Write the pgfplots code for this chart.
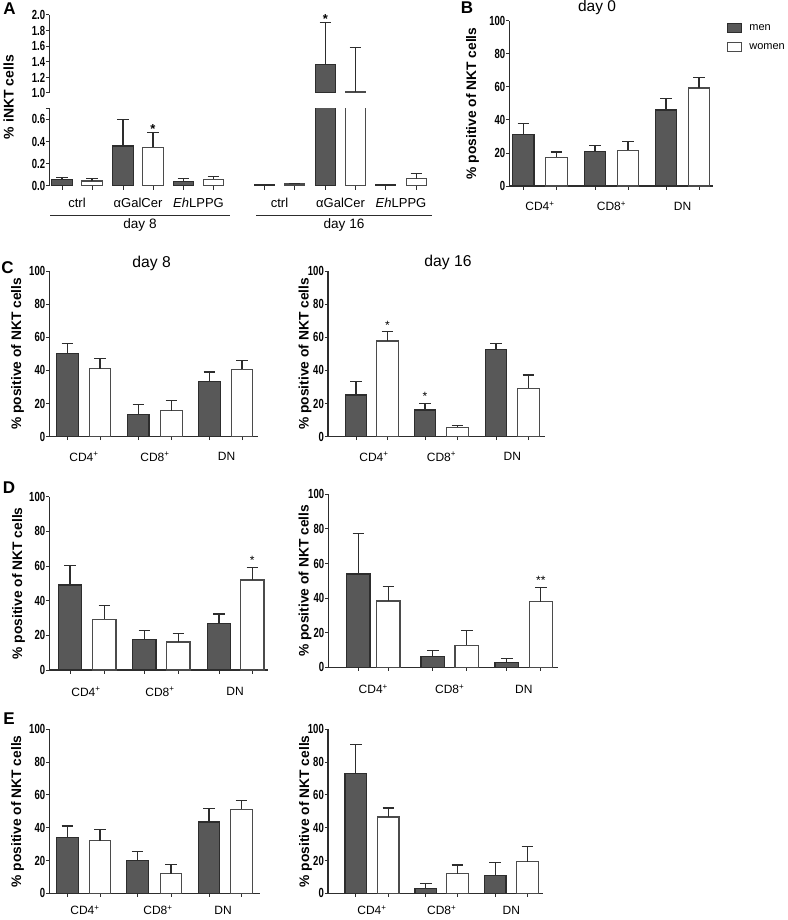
\documentclass[border=0pt]{standalone}
\usepackage{pgfplots}
\pgfplotsset{compat=1.18}
\usepackage{fontspec}
\setmainfont{Liberation Sans}
\newfontfamily\condbold{Liberation Sans Bold}[FakeStretch=0.72]
\newcommand\fs[1]{\fontsize{#1}{#1}\selectfont}
\definecolor{mencol}{RGB}{88,88,88}
\definecolor{edge}{RGB}{45,45,45}
\definecolor{wedge}{RGB}{75,75,75}
\definecolor{axc}{RGB}{45,45,45}
\pgfplotsset{
  gp/.style={
    scale only axis, clip mode=individual, anchor=south west,
    axis x line*=bottom, axis y line*=left,
    axis line style={-, line width=1.3pt, draw=axc},
    tick align=outside, major tick length=3.5pt,
    every tick/.style={line width=1pt, draw=axc},
    enlargelimits=false,
    xticklabels={},
    yticklabel style={font=\condbold\fs{13.2}, inner sep=0.5pt},
    ymin=0,
    extra x tick style={major tick length=0pt, tick label style={anchor=center, font=\fs{12}}},
  },
  pc/.style={ymax=100, ytick={0,20,40,60,80,100}, yticklabels={0,20,40,60,80,100},
    extra x tick labels={CD4\textsuperscript{+},CD8\textsuperscript{+},DN}},
  menbar/.style={ybar, bar shift=0pt, fill=mencol, draw=edge, line width=1.2pt,
    error bars/y dir=plus, error bars/y explicit, error bars/error mark=-,
    error bars/error bar style={line width=1.2pt, draw=edge},
    error bars/error mark options={rotate=90, line width=1.2pt, mark size=5.8pt, draw=edge}},
  womenbar/.style={ybar, bar shift=0pt, fill=white, draw=wedge, line width=1.2pt,
    error bars/y dir=plus, error bars/y explicit, error bars/error mark=-,
    error bars/error bar style={line width=1.2pt, draw=edge},
    error bars/error mark options={rotate=90, line width=1.2pt, mark size=5.8pt, draw=edge}},
  boxlegend/.style={legend image code/.code={\draw[##1] (0pt,-4.5pt) rectangle (14pt,4.5pt);}},
}
\newcommand\sigstar[1]{\node[anchor=base, inner sep=0pt, yshift=2.5pt, font=\fs{12}] at (axis cs:#1) {*};}
\begin{document}
\begin{tikzpicture}
\useasboundingbox (0pt,0pt) rectangle (787pt,-920pt);

% ---------------- A lower ----------------
\begin{axis}[gp, at={(49.3pt,-186pt)}, width=382.7pt, height=77.7pt,
  xmin=49.3, xmax=432, ymax=0.7, bar width=20.7,
  x axis line style={draw=none},
  ytick={0,0.2,0.4,0.6,0.7}, yticklabels={0.0,0.2,0.4,0.6,{}},
  xtick={62,92,123,153,183.5,213.5,264.5,294.5,325.5,355.5,385.5,416.5},
  extra x ticks={77,138,198.5,279.5,340.5,401},
  extra x tick labels={ctrl,αGalCer,\textit{Eh}LPPG,ctrl,αGalCer,\textit{Eh}LPPG},
  extra x tick style={tick label style={yshift=-17pt, font=\fs{13}}}]
\addplot[menbar] coordinates {(62,0.055) +- (0,0.022) (123,0.36) +- (0,0.24) (183.5,0.043) +- (0,0.027)
  (264.5,0.01) +- (0,0.003) (325.5,1.37) +- (0,0.53) (385.5,0.01) +- (0,0.006)};
\addplot[womenbar] coordinates {(92,0.045) +- (0,0.02) (153,0.35) +- (0,0.13) (213.5,0.06) +- (0,0.024)
  (294.5,0.018) +- (0,0.007) (355.5,1.017) +- (0,0.563) (416.5,0.065) +- (0,0.045)};
\node[anchor=base, inner sep=0pt, yshift=-0.5pt, font=\bfseries\fs{13}] at (axis cs:153,0.48) {*};
\end{axis}

% ---------------- A upper (broken axis: only the tall day-16 aGalCer bars reach it) ----------------
\begin{axis}[gp, at={(49.3pt,-93pt)}, width=382.7pt, height=78pt,
  xmin=49.3, xmax=432, ymin=1, ymax=2, bar width=20.7,
  axis x line=none,
  ytick={1,1.2,1.4,1.6,1.8,2}, yticklabels={1.0,1.2,1.4,1.6,1.8,2.0}]
\addplot[menbar] coordinates {(325.5,1.37) +- (0,0.53)};
\addplot[womenbar] coordinates {(355.5,1.017) +- (0,0.563)};
\node[anchor=base, inner sep=0pt, yshift=-0.5pt, font=\bfseries\fs{13}] at (axis cs:325.5,1.90) {*};
\end{axis}

% ---------------- B ----------------
\begin{axis}[gp, pc, at={(509.3pt,-186pt)}, width=203.7pt, height=165pt,
  xmin=509.3, xmax=713, bar width=21.5,
  xtick={523.3,556.5,595,628,666,699},
  extra x ticks={540,611.5,682.5},
  extra x tick style={tick label style={yshift=-20pt}},
  legend style={at={(axis description cs:1,1)}, anchor=north west, xshift=14pt, yshift=-1pt,
    draw=none, fill=none, font=\fs{11}, row sep=8pt, inner sep=0pt,
    /tikz/every odd column/.append style={column sep=5pt}},
  legend cell align=left]
\addplot[menbar, boxlegend] coordinates {(523.3,31.1) +- (0,6.9) (595,20.8) +- (0,3.6) (666,46) +- (0,7)};
\addlegendentry{men}
\addplot[womenbar, boxlegend] coordinates {(556.5,17.4) +- (0,3.2) (628,21.6) +- (0,5.2) (699,59.4) +- (0,6.2)};
\addlegendentry{women}
\end{axis}

% ---------------- C left ----------------
\begin{axis}[gp, pc, at={(49.3pt,-436.7pt)}, width=209pt, height=165.7pt,
  xmin=49.3, xmax=258.3, bar width=21.5,
  xtick={67.5,100,138.3,171.5,209.5,242},
  extra x ticks={84,155,226.5},
  extra x tick style={tick label style={yshift=-20pt}}]
\addplot[menbar] coordinates {(67.5,50) +- (0,6.2) (138.3,13.2) +- (0,6.4) (209.5,33.4) +- (0,5.6)};
\addplot[womenbar] coordinates {(100,41) +- (0,6.4) (171.5,15.8) +- (0,6) (242,40.6) +- (0,5.6)};
\end{axis}

% ---------------- C right ----------------
\begin{axis}[gp, pc, at={(328pt,-436.7pt)}, width=217pt, height=165.7pt,
  xmin=328, xmax=545, bar width=21.5,
  xtick={356,387.5,425,457.5,496,528.5},
  extra x ticks={374,441.5,512.3},
  extra x tick style={tick label style={yshift=-20pt}}]
\addplot[menbar] coordinates {(356,25.2) +- (0,8) (425,16.1) +- (0,4) (496,52.7) +- (0,3.6)};
\addplot[womenbar] coordinates {(387.5,57.8) +- (0,5.6) (457.5,5.6) +- (0,1.4) (528.5,29.2) +- (0,8)};
\sigstar{387.5,63.4}
\sigstar{425,20.1}
\end{axis}

% ---------------- D left ----------------
\begin{axis}[gp, pc, at={(49.3pt,-670pt)}, width=218.7pt, height=173.3pt,
  xmin=49.3, xmax=268, bar width=23.3,
  xtick={70,104.3,144.3,178.3,219,252.3},
  extra x ticks={86,160,235},
  extra x tick style={tick label style={yshift=-21.7pt}}]
\addplot[menbar] coordinates {(70,49) +- (0,11.2) (144.3,17.7) +- (0,5) (219,26.7) +- (0,5.6)};
\addplot[womenbar] coordinates {(104.3,29.2) +- (0,7.8) (178.3,16.2) +- (0,5) (252.3,51.9) +- (0,7.3)};
\sigstar{252.3,59.2}
\end{axis}

% ---------------- D right ----------------
\begin{axis}[gp, pc, at={(328.3pt,-667.3pt)}, width=229.7pt, height=173pt,
  xmin=328.3, xmax=558, bar width=23.3,
  xtick={358.3,388.3,432.7,466.7,506.7,540.8},
  extra x ticks={373.3,449.7,523.8},
  extra x tick style={tick label style={yshift=-21.7pt}}]
\addplot[menbar] coordinates {(358.3,53.9) +- (0,23.5) (432.7,6.1) +- (0,3.5) (506.7,2.7) +- (0,2.3)};
\addplot[womenbar] coordinates {(388.3,38.3) +- (0,8.3) (466.7,12.7) +- (0,8.7) (540.8,37.9) +- (0,8.3)};
\node[anchor=base, inner sep=0pt, yshift=2.5pt, font=\fs{12}] at (axis cs:540.8,46.2) {**};
\end{axis}

% ---------------- E left ----------------
\begin{axis}[gp, pc, at={(49.3pt,-893.3pt)}, width=210.7pt, height=164pt,
  xmin=49.3, xmax=260, bar width=21.5,
  xtick={67.5,100,137.5,171,209,241.5},
  extra x ticks={85,158,223},
  extra x tick style={tick label style={yshift=-17pt}}]
\addplot[menbar] coordinates {(67.5,34) +- (0,7) (137.5,20) +- (0,5.5) (209,43.5) +- (0,8)};
\addplot[womenbar] coordinates {(100,32.2) +- (0,6.8) (171,12) +- (0,5.5) (241.5,51.2) +- (0,5.3)};
\end{axis}

% ---------------- E right ----------------
\begin{axis}[gp, pc, at={(328pt,-893.3pt)}, width=215pt, height=164pt,
  xmin=328, xmax=543, bar width=21.5,
  xtick={355.8,388.3,425.8,457.5,495.2,527.5},
  extra x ticks={372,441.7,511.4},
  extra x tick style={tick label style={yshift=-17pt}}]
\addplot[menbar] coordinates {(355.8,73) +- (0,17.5) (425.8,3) +- (0,3) (495.2,10.7) +- (0,8)};
\addplot[womenbar] coordinates {(388.3,46.5) +- (0,5.5) (457.5,12) +- (0,5.3) (527.5,19.3) +- (0,9.1)};
\end{axis}

% ---------------- texts ----------------
\begin{scope}[every node/.style={inner sep=0pt}]
\node[font=\bfseries\fs{17}] at (9.5pt,-8.5pt) {A};
\node[font=\bfseries\fs{17}] at (467pt,-7.5pt) {B};
\node[font=\bfseries\fs{17}] at (7.5pt,-268pt) {C};
\node[font=\bfseries\fs{17}] at (9pt,-488pt) {D};
\node[font=\bfseries\fs{17}] at (9pt,-719pt) {E};
\node[font=\fs{15.5}] at (597pt,-7pt) {day 0};
\node[font=\fs{15.7}] at (151.7pt,-263pt) {day 8};
\node[font=\fs{15.7}] at (448pt,-262pt) {day 16};
\node[font=\fs{13.6}] at (140pt,-225pt) {day 8};
\node[font=\fs{13.6}] at (344pt,-225pt) {day 16};
\node[rotate=90, font=\bfseries\fs{14}] at (8.5pt,-97pt) {\% iNKT cells};
\node[rotate=90, font=\bfseries\fs{13.8}] at (472.5pt,-103.5pt) {\% positive of NKT cells};
\node[rotate=90, font=\bfseries\fs{13.8}] at (17.5pt,-353.8pt) {\% positive of NKT cells};
\node[rotate=90, font=\bfseries\fs{13.8}] at (305pt,-353.8pt) {\% positive of NKT cells};
\node[rotate=90, font=\bfseries\fs{13.8}] at (18.5pt,-583.3pt) {\% positive of NKT cells};
\node[rotate=90, font=\bfseries\fs{13.8}] at (305pt,-580.8pt) {\% positive of NKT cells};
\node[rotate=90, font=\bfseries\fs{13.8}] at (17.5pt,-811.3pt) {\% positive of NKT cells};
\node[rotate=90, font=\bfseries\fs{13.8}] at (305.5pt,-811.3pt) {\% positive of NKT cells};
\end{scope}
\draw[line width=1.2pt, draw=axc] (50pt,-215.3pt) -- (230pt,-215.3pt);
\draw[line width=1.2pt, draw=axc] (256pt,-215.3pt) -- (432pt,-215.3pt);
\end{tikzpicture}
\end{document}
